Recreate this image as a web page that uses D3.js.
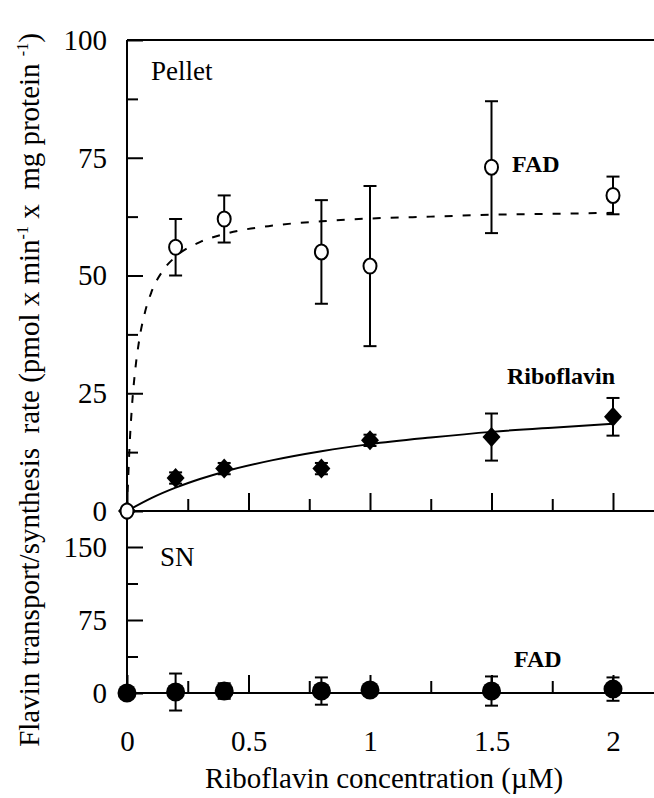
<!DOCTYPE html>
<html>
<head>
<meta charset="utf-8">
<script src="https://cdn.jsdelivr.net/npm/d3@7.9.0/dist/d3.min.js"></script>
<style>
  body { margin: 0; background: #fff; }
  svg { display: block; font-family: "Liberation Serif", "Times New Roman", serif; }
</style>
</head>
<body>
<div id="chart"></div>
<script>
// riboflavin concentration (uM)
const conc = [0, 0.2, 0.4, 0.8, 1, 1.5, 2];

// pellet
const pelletFAD = [0, 56, 62, 55, 52, 73, 67];
const pelletFADErr = [0, 6, 5, 11, 17, 14, 4];
const pelletRibo = [0, 7, 9, 9, 15, 15.7, 20];
const pelletRiboErr = [0, 1.2, 1.2, 1.2, 1.2, 5, 4];

// supernatant
const snFAD = [0, 1, 2, 2, 3, 2, 4];
const snFADErr = [0, 19, 8, 14, 4, 15, 12];

// fitted curves
const fadFitX = [0, 0.01, 0.02, 0.035, 0.05, 0.075, 0.1, 0.15, 0.2, 0.3, 0.4, 0.6, 0.8, 1, 1.25, 1.5, 1.75, 2];
const fadFitY = [0, 13.2, 21.9, 30.5, 36.2, 42.4, 46.4, 51.2, 54, 57.1, 58.8, 60.6, 61.5, 62.1, 62.5, 62.9, 63.1, 63.3];
const riboFitX = [0, 0.1, 0.2, 0.3, 0.4, 0.6, 0.8, 1, 1.25, 1.5, 1.75, 2];
const riboFitY = [0, 2.73, 4.95, 6.79, 8.35, 10.8, 12.7, 14.2, 15.6, 16.8, 17.7, 18.5];

const xMajor = [0, 0.5, 1, 1.5, 2];
const xMinor = [0.25, 0.75, 1.25, 1.75];
const yTopMajor = [0, 25, 50, 75, 100];
const yTopMinor = [12.5, 37.5, 62.5, 87.5];
const yBotMajor = [0, 75, 150];
const yBotMinor = [37.5, 112.5];

const width = 654;
const height = 798;

const svg = d3.select('#chart')
  .append('svg')
  .attr('width', width)
  .attr('height', height);

const x = d3.scaleLinear().domain([0, 2]).range([127, 613]);
const yTop = d3.scaleLinear().domain([0, 100]).range([511, 40]);
const yBot = d3.scaleLinear().domain([0, 150]).range([693, 547]);

const ink = '#000';

function styleAxis(g) {
  g.select('.domain').remove();
  g.selectAll('line').attr('stroke', ink).attr('stroke-width', 2);
  g.selectAll('text').attr('fill', ink).style('font-size', '29px')
    .style('font-family', '"Liberation Serif", "Times New Roman", serif');
}

// frame
const frame = svg.append('g').attr('stroke', ink).attr('stroke-width', 2);
frame.append('line').attr('x1', x(0)).attr('x2', x(0)).attr('y1', yTop(100)).attr('y2', yBot(0));
frame.append('line').attr('x1', x(0)).attr('x2', width).attr('y1', yTop(100)).attr('y2', yTop(100));
frame.append('line').attr('x1', x(0)).attr('x2', width).attr('y1', yTop(0)).attr('y2', yTop(0));
frame.append('line').attr('x1', x(0)).attr('x2', width).attr('y1', yBot(0)).attr('y2', yBot(0));

// x ticks (both panels), labels only at the bottom
function xTicks(yPos, labels) {
  svg.append('g')
    .attr('transform', `translate(0,${yPos})`)
    .call(d3.axisBottom(x).tickValues(xMajor).tickSize(-18).tickSizeOuter(0)
      .tickPadding(37).tickFormat(labels ? (d) => String(d) : ''))
    .call(styleAxis);
  svg.append('g')
    .attr('transform', `translate(0,${yPos})`)
    .call(d3.axisBottom(x).tickValues(xMinor).tickSize(-12).tickSizeOuter(0).tickFormat(''))
    .call(styleAxis);
}
xTicks(yTop(0), false);
xTicks(yBot(0), true);

// y ticks
function yTicks(scale, major, minor) {
  svg.append('g')
    .attr('transform', `translate(${x(0)},0)`)
    .call(d3.axisLeft(scale).tickValues(major).tickSize(-16).tickSizeOuter(0).tickPadding(20))
    .call(styleAxis);
  svg.append('g')
    .attr('transform', `translate(${x(0)},0)`)
    .call(d3.axisLeft(scale).tickValues(minor).tickSize(-11).tickSizeOuter(0).tickFormat(''))
    .call(styleAxis);
}
yTicks(yTop, yTopMajor, yTopMinor);
yTicks(yBot, yBotMajor, yBotMinor);

// fit curves
const fitLine = d3.line().x((d) => x(d[0])).y((d) => yTop(d[1])).curve(d3.curveMonotoneX);
svg.append('path')
  .datum(d3.zip(fadFitX, fadFitY))
  .attr('d', fitLine)
  .attr('fill', 'none')
  .attr('stroke', ink)
  .attr('stroke-width', 2)
  .attr('stroke-dasharray', '8,10');

svg.append('path')
  .datum(d3.zip(riboFitX, riboFitY))
  .attr('d', fitLine)
  .attr('fill', 'none')
  .attr('stroke', ink)
  .attr('stroke-width', 2);

// error bars
function errorBars(scale, values, errs) {
  const rows = d3.zip(conc, values, errs).filter((d) => d[2] > 0);
  const g = svg.append('g').attr('stroke', ink).attr('stroke-width', 2);
  g.selectAll(null).data(rows).join('line')
    .attr('x1', (d) => x(d[0])).attr('x2', (d) => x(d[0]))
    .attr('y1', (d) => scale(d[1] - d[2])).attr('y2', (d) => scale(d[1] + d[2]));
  for (const s of [-1, 1]) {
    g.selectAll(null).data(rows).join('line')
      .attr('x1', (d) => x(d[0]) - 6.5).attr('x2', (d) => x(d[0]) + 6.5)
      .attr('y1', (d) => scale(d[1] + s * d[2])).attr('y2', (d) => scale(d[1] + s * d[2]));
  }
}
errorBars(yTop, pelletFAD, pelletFADErr);
errorBars(yTop, pelletRibo, pelletRiboErr);
errorBars(yBot, snFAD, snFADErr);

// markers
svg.append('g').selectAll('path')
  .data(d3.zip(conc, pelletRibo))
  .join('path')
  .attr('transform', (d) => `translate(${x(d[0])},${yTop(d[1])})`)
  .attr('d', 'M0,-10L9,0L0,10L-9,0Z')
  .attr('fill', ink);

svg.append('g').selectAll('ellipse')
  .data(d3.zip(conc, pelletFAD))
  .join('ellipse')
  .attr('cx', (d) => x(d[0]))
  .attr('cy', (d) => yTop(d[1]))
  .attr('rx', 6.5)
  .attr('ry', 7.5)
  .attr('fill', '#fff')
  .attr('stroke', ink)
  .attr('stroke-width', 2);

svg.append('g').selectAll('circle')
  .data(d3.zip(conc, snFAD))
  .join('circle')
  .attr('cx', (d) => x(d[0]))
  .attr('cy', (d) => yBot(d[1]))
  .attr('r', 9.5)
  .attr('fill', ink);

// panel and series labels
svg.append('text').attr('x', 151).attr('y', 80).style('font-size', '27px').text('Pellet');
svg.append('text').attr('x', 160).attr('y', 566).style('font-size', '27px').text('SN');
svg.append('text').attr('x', 512).attr('y', 172).style('font-size', '24px').style('font-weight', 'bold').text('FAD');
svg.append('text').attr('x', 507).attr('y', 384).style('font-size', '24px').style('font-weight', 'bold').text('Riboflavin');
svg.append('text').attr('x', 514).attr('y', 667).style('font-size', '24px').style('font-weight', 'bold').text('FAD');

// axis titles
svg.append('text')
  .attr('x', 384).attr('y', 788)
  .attr('text-anchor', 'middle')
  .style('font-size', '29px')
  .text('Riboflavin concentration (\u00b5M)');

const yTitle = svg.append('text')
  .attr('transform', 'translate(39,390) rotate(-90)')
  .attr('text-anchor', 'middle')
  .style('font-size', '29px');
yTitle.append('tspan').text('Flavin transport/synthesis\u00a0 rate (pmol x min');
yTitle.append('tspan').attr('dy', -11).style('font-size', '16px').text('-1');
yTitle.append('tspan').attr('dy', 11).text(' x\u00a0 mg protein ');
yTitle.append('tspan').attr('dy', -11).style('font-size', '16px').text('-1');
yTitle.append('tspan').attr('dy', 11).text(')');
</script>
</body>
</html>
